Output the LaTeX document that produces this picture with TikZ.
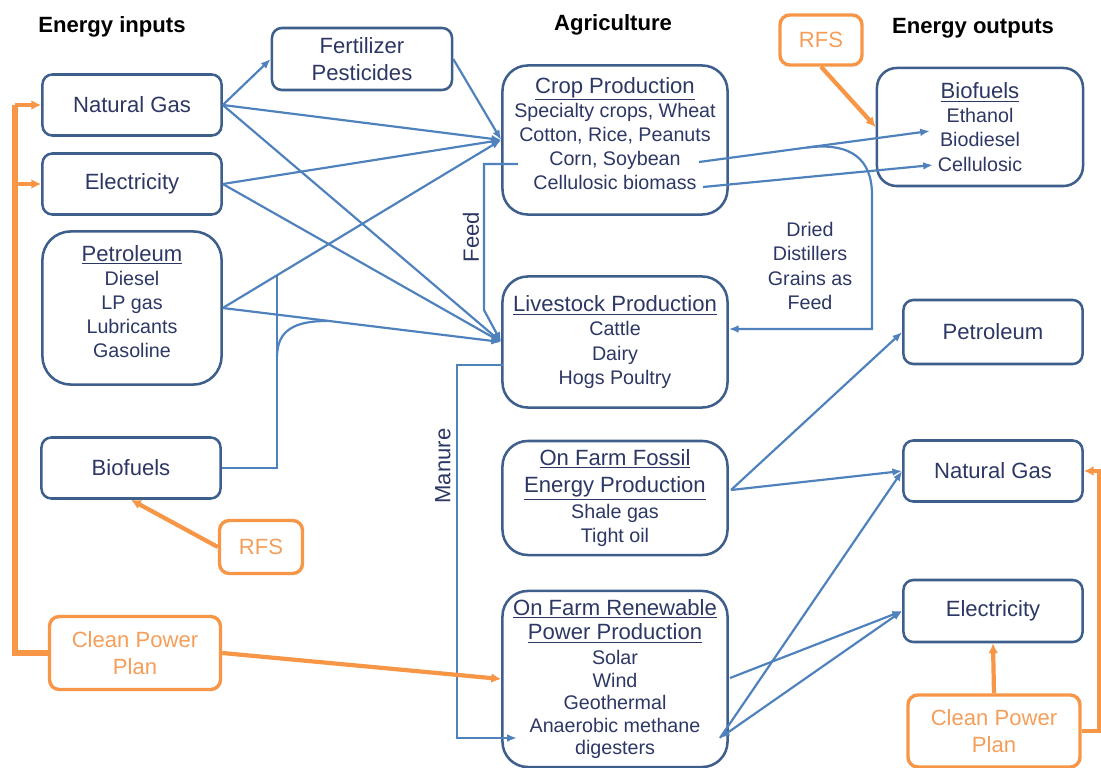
\documentclass[tikz,border=0pt]{standalone}
\usepackage{fontspec}
\setmainfont{Liberation Sans}
\usetikzlibrary{arrows.meta}
\definecolor{boxblue}{RGB}{62,94,140}
\definecolor{lineblue}{RGB}{79,129,189}
\definecolor{textblue}{RGB}{45,55,100}
\definecolor{planorange}{RGB}{247,150,70}
\definecolor{plantext}{RGB}{245,158,90}
\newcommand{\bigtext}{\fontsize{15.7}{19.5}\selectfont}
\newcommand{\smalltext}{\fontsize{14}{17.2}\selectfont}
\tikzset{
  >={Latex[width=5.5pt,length=7pt]},
  % Specifications for style of nodes:
         base/.style = {rectangle, rounded corners=7pt, draw=boxblue, line width=1.8pt,
                        text=textblue, align=center, inner sep=0pt, font=\bigtext},
       source/.style = {base, minimum width=4.475cm, minimum height=1.525cm},
       sector/.style = {base, minimum width=5.625cm, rounded corners=18pt, font=\smalltext},
       policy/.style = {base, draw=planorange, text=plantext, line width=2.4pt},
      heading/.style = {font=\bigtext\bfseries, text=black},
    flowlabel/.style = {font=\bigtext, text=textblue, align=center},
  % Specifications for style of lines:
         flow/.style = {->, draw=lineblue, line width=1.55pt},
     planflow/.style = {-{Latex[width=7pt,length=7pt]}, draw=planorange, line width=3pt},
}

\begin{document}
\begin{tikzpicture}[x=0.025cm, y=-0.025cm]
    \useasboundingbox (0,0) rectangle (1101,768);
    % Specification of nodes (position, etc.)
    \node (inputsHead)  [heading] at (112,27) {Energy inputs};
    \node (agriHead)    [heading] at (613,25) {Agriculture};
    \node (outputsHead) [heading] at (973,28) {Energy outputs};

    \node (natgasIn)    [source]                          at (132,105) {Natural Gas};
    \node (elecIn)      [source]                          at (132,184) {Electricity};
    \node (petrolIn)    [source, minimum height=3.825cm, rounded corners=20pt, font=\smalltext]
                                                          at (132,308) {{\bigtext\underline{Petroleum}}\\ Diesel\\ LP gas\\ Lubricants\\ Gasoline\\[-8pt]\mbox{}};
    \node (biofuelIn)   [source]                          at (131,468) {Biofuels};
    \node (fert)        [source, minimum width=4.5cm, minimum height=1.55cm]
                                                          at (362,59)  {Fertilizer\\ Pesticides};

    \node (crop)        [sector, minimum height=3.725cm]  at (615,140) {{\bigtext\underline{Crop Production}}\\ Specialty crops, Wheat\\ Cotton, Rice, Peanuts\\ Corn, Soybean\\ Cellulosic biomass\\[-8pt]\mbox{}};
    \node (livestock)   [sector, minimum height=3.275cm]  at (615,342) {{\bigtext\underline{Livestock Production}}\\ Cattle\\ Dairy\\ Hogs Poultry};
    \node (fossil)      [sector, minimum height=2.85cm]   at (615,498) {{\bigtext\underline{On Farm Fossil}}\\[2pt] {\bigtext\underline{Energy Production}}\\[1pt] Shale gas\\ Tight oil};
    \node (renew)       [sector, minimum height=4.4cm, font=\fontsize{14}{16}\selectfont]
                                                          at (615,679) {{\bigtext\underline{On Farm Renewable}}\\[1.5pt] {\bigtext\underline{Power Production}}\\[1.5pt] Solar\\ Wind\\ Geothermal\\ Anaerobic methane\\ digesters};

    \node (biofuelOut)  [source, minimum width=5.15cm, minimum height=2.95cm, rounded corners=14pt, font=\smalltext]
                                                          at (980,127) {{\bigtext\underline{Biofuels}}\\ Ethanol\\ Biodiesel\\ Cellulosic};
    \node (petrolOut)   [source, minimum height=1.6cm]    at (993,332) {Petroleum};
    \node (natgasOut)   [source]                          at (993,471) {Natural Gas};
    \node (elecOut)     [source, minimum height=1.55cm]   at (993,611) {Electricity};

    \node (rfsTop)      [policy, minimum width=2.05cm, minimum height=1.25cm]   at (821,40)  {RFS};
    \node (rfsBottom)   [policy, minimum width=2.075cm, minimum height=1.325cm] at (261,547) {RFS};
    \node (cppIn)       [policy, minimum width=4.275cm, minimum height=1.825cm] at (135,653) {Clean Power\\ Plan};
    \node (cppOut)      [policy, minimum width=4.3cm, minimum height=1.8cm]     at (994,731) {Clean Power\\ Plan};

    \node (feedLabel)   [flowlabel, rotate=90]            at (471,237) {Feed};
    \node (manureLabel) [flowlabel, rotate=90]            at (443,466) {Manure};
    \node (ddgsLabel)   [flowlabel, font=\smalltext]      at (810,266) {Dried\\ Distillers\\ Grains as\\ Feed};

    % Points where lines leave or join inside the boxes
    \coordinate (bioJoinUp)     at (277,275.5);
    \coordinate (bioJoinCurve)  at (277,357);
    \coordinate (bioMerge)      at (327,321);
    \coordinate (feedStart)     at (518,164);
    \coordinate (cornEnd)       at (699,162);
    \coordinate (ethanolTip)    at (930,131);
    \coordinate (biomassEnd)    at (703,187);
    \coordinate (cellulosicTip) at (933,165);
    \coordinate (ddgsStart)     at (807,147.5);
    \coordinate (ddgsTurn)      at (872,329);
    \coordinate (manureStart)   at (503,365);
    \coordinate (manureEnd)     at (517,738);
    \coordinate (fossilOut)     at (731,490);
    \coordinate (solarOut)      at (730,678);
    \coordinate (digesterOut)   at (720,738);
    \coordinate (railTop)       at (15,105);

    % Specification of lines between nodes specified above
    \draw[flow]               (natgasIn.east) -- (fert.west);
    \draw[flow]               (natgasIn.east) -- (crop.west);
    \draw[flow]               (natgasIn.east) -- (livestock.west);
    \draw[flow]               (elecIn.east)   -- (crop.west);
    \draw[flow]               (elecIn.east)   -- (livestock.west);
    \draw[flow]               (petrolIn.east) -- (crop.west);
    \draw[flow]               (petrolIn.east) -- (livestock.west);
    \draw[flow]               (fert.east)     -- (crop.west);
    \draw[flow, -]            (biofuelIn.east) -| (bioJoinUp);
    \draw[flow, -]            (bioJoinCurve) .. controls (277,330) and (295,321) .. (bioMerge);

    \draw[flow]               (feedStart) -- (484,164) -- (484,310) -- (livestock.west);
    \draw[flow]               (cornEnd)    -- (ethanolTip);
    \draw[flow]               (biomassEnd) -- (cellulosicTip);
    \draw[flow]               (ddgsStart) .. controls (852,142) and (872,160) .. (872,195)
                              -- (ddgsTurn) -- (ddgsTurn -| livestock.east);
    \draw[flow]               (manureStart) -- (457,365) |- (manureEnd);

    \draw[flow]               (fossilOut)   -- (petrolOut.west);
    \draw[flow]               (fossilOut)   -- (natgasOut.west);
    \draw[flow]               (solarOut)    -- (elecOut.west);
    \draw[flow, <->]          (digesterOut) -- (elecOut.west);
    \draw[flow]               (digesterOut) -- (natgasOut.west);

    % Policy lines
    \draw[planflow]           (rfsTop.south)   -- (biofuelOut.west);
    \draw[planflow]           (rfsBottom.west) -- (biofuelIn.south);
    \draw[planflow, -, line width=4pt] (cppIn.west) -| (railTop);
    \draw[planflow]           (railTop |- natgasIn.west) -- (natgasIn.west);
    \draw[planflow]           (railTop |- elecIn.west)   -- (elecIn.west);
    \draw[planflow]           (cppIn.east)     -- (renew.west);
    \draw[planflow]           (cppOut.north)   -- (elecOut.south);
    \draw[planflow]           (cppOut.east) -- ++(17,0) |- (natgasOut.east);
\end{tikzpicture}
\end{document}
